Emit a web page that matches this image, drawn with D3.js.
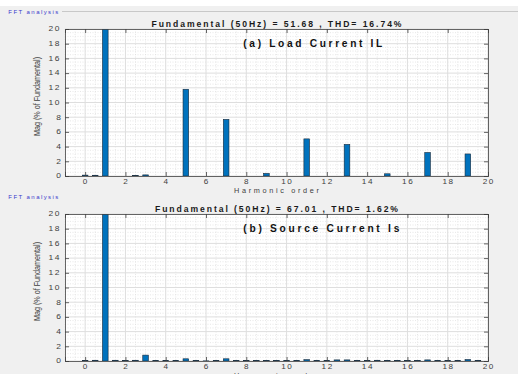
<!DOCTYPE html>
<html>
<head>
<meta charset="utf-8">
<script src="https://cdn.jsdelivr.net/npm/d3@7"></script>
<style>
  html, body { margin: 0; padding: 0; background: #f0f0f0; }
  svg { display: block; }
  text { font-family: "Liberation Sans", Arial, Helvetica, sans-serif; }
</style>
</head>
<body>
<svg id="chart" width="518" height="374"></svg>
<script>
// Harmonic spectrum of the load current (a)
const harmonicsA = [0, 0.5, 1, 2.5, 3, 5, 7, 9, 11, 13, 15, 17, 19];
const magA       = [0.12, 0.1, 100, 0.08, 0.15, 11.8, 7.7, 0.35, 5.05, 4.3, 0.3, 3.2, 3.0];

// Harmonic spectrum of the source current (b), half-order resolution
const harmonicsB = [0, 0.5, 1, 1.5, 2, 2.5, 3, 3.5, 4, 4.5, 5, 5.5, 6, 6.5, 7, 7.5, 8, 8.5, 9, 9.5,
                    10, 10.5, 11, 11.5, 12, 12.5, 13, 13.5, 14, 14.5, 15, 15.5, 16, 16.5, 17, 17.5, 18, 18.5, 19, 19.5];
const magB       = [0.08, 0.1, 100, 0.1, 0.08, 0.1, 0.8, 0.08, 0.08, 0.08, 0.3, 0.08, 0.02, 0.08, 0.3, 0.08, 0.08, 0.08, 0.08, 0.08,
                    0.08, 0.08, 0.18, 0.08, 0.08, 0.15, 0.15, 0.08, 0.08, 0.1, 0.08, 0.08, 0.08, 0.08, 0.15, 0.08, 0.08, 0.08, 0.2, 0.08];

const xTicks = [0, 2, 4, 6, 8, 10, 12, 14, 16, 18, 20];
const yTicks = [0, 2, 4, 6, 8, 10, 12, 14, 16, 18, 20];

const titles = ["Fundamental (50Hz) = 51.68 , THD= 16.74%", "Fundamental (50Hz) = 67.01 , THD= 1.62%"];
const labels = ["(a) Load Current IL", "(b) Source Current Is"];
const panelName = "FFT analysis";
const xLabel = "Harmonic order";
const yLabel = "Mag (% of Fundamental)";

const svg = d3.select("#chart");
const W = 518, H = 374;

// window background
svg.append("rect").attr("width", W).attr("height", H).attr("fill", "#f0f0f0");
svg.append("rect").attr("width", W).attr("height", 6).attr("fill", "#ffffff");

const left = 65, right = 488;
const panels = [
  { top: 29, bottom: 176, xs: harmonicsA, ys: magA, title: titles[0], label: labels[0],
    titleW: 250, labelW: 139, nameY: 14, line: true },
  { top: 214, bottom: 361, xs: harmonicsB, ys: magB, title: titles[1], label: labels[1],
    titleW: 243, labelW: 156, nameY: 199, line: false }
];

const x = d3.scaleLinear().domain([-1, 20]).range([left, right]);
const barW = x(0.28) - x(0);

panels.forEach((p, i) => {
  const y = d3.scaleLinear().domain([0, 20]).range([p.bottom, p.top]);
  const g = svg.append("g");

  // panel caption
  g.append("text").attr("x", 8.3).attr("y", p.nameY)
    .attr("font-size", 6).attr("fill", "#3a3acc")
    .attr("textLength", 50).text(panelName);
  if (p.line) {
    g.append("line").attr("x1", 62).attr("x2", W).attr("y1", 11.5).attr("y2", 11.5)
      .attr("stroke", "#c8c8c8").attr("stroke-width", 1);
  }

  // plot area
  g.append("rect").attr("x", left).attr("y", p.top)
    .attr("width", right - left).attr("height", p.bottom - p.top).attr("fill", "#ffffff");

  // minor grid (dotted)
  const minorX = d3.range(-1, 20.01, 0.5).filter(v => !xTicks.includes(v));
  const minorY = d3.range(0, 20.01, 0.5).filter(v => !yTicks.includes(v));
  g.append("g").selectAll("line").data(minorX).join("line")
    .attr("x1", d => x(d)).attr("x2", d => x(d)).attr("y1", p.top).attr("y2", p.bottom)
    .attr("stroke", "#dcdcdc").attr("stroke-width", 0.7).attr("stroke-dasharray", "1,1.5");
  g.append("g").selectAll("line").data(minorY).join("line")
    .attr("x1", left).attr("x2", right).attr("y1", d => y(d)).attr("y2", d => y(d))
    .attr("stroke", "#dcdcdc").attr("stroke-width", 0.7).attr("stroke-dasharray", "1,1.5");

  // major grid
  g.append("g").selectAll("line").data(xTicks).join("line")
    .attr("x1", d => x(d)).attr("x2", d => x(d)).attr("y1", p.top).attr("y2", p.bottom)
    .attr("stroke", "#dedede").attr("stroke-width", 1);
  g.append("g").selectAll("line").data(yTicks).join("line")
    .attr("x1", left).attr("x2", right).attr("y1", d => y(d)).attr("y2", d => y(d))
    .attr("stroke", "#dedede").attr("stroke-width", 1);

  // bars, clipped to the axes box
  const clipId = "clip" + i;
  svg.append("clipPath").attr("id", clipId).append("rect")
    .attr("x", left).attr("y", p.top).attr("width", right - left).attr("height", p.bottom - p.top);
  const data = p.xs.map((h, k) => ({ h, v: p.ys[k] }));
  g.append("g").attr("clip-path", `url(#${clipId})`)
    .selectAll("rect").data(data).join("rect")
    .attr("x", d => x(d.h) - barW / 2)
    .attr("y", d => y(d.v))
    .attr("width", barW)
    .attr("height", d => y(0) - y(d.v))
    .attr("fill", "#0072bd")
    .attr("stroke", "#1a2a3a").attr("stroke-width", 0.6);

  // axes with inward ticks
  const axB = d3.axisBottom(x).tickValues(xTicks).tickSize(-4).tickFormat("");
  const axT = d3.axisTop(x).tickValues(xTicks).tickSize(-4).tickFormat("");
  const axL = d3.axisLeft(y).tickValues(yTicks).tickSize(-4).tickFormat("");
  const axR = d3.axisRight(y).tickValues(yTicks).tickSize(-4).tickFormat("");
  [[axB, `translate(0,${p.bottom})`], [axT, `translate(0,${p.top})`],
   [axL, `translate(${left},0)`], [axR, `translate(${right},0)`]].forEach(([ax, tr]) => {
    const a = g.append("g").attr("transform", tr).call(ax);
    a.select(".domain").attr("stroke", "#404040").attr("stroke-width", 0.8);
    a.selectAll(".tick line").attr("stroke", "#404040").attr("stroke-width", 0.8);
  });

  // tick labels
  g.append("g").selectAll("text").data(xTicks).join("text")
    .attr("transform", d => `translate(${x(d)},${p.bottom + 8}) scale(1.3,1)`)
    .attr("text-anchor", "middle").attr("font-size", 6.3)
    .attr("letter-spacing", d => d >= 10 ? 1.2 : 0)
    .attr("dx", d => d >= 10 ? 0.6 : 0)
    .attr("fill", "#404040").text(d => d);
  g.append("g").selectAll("text").data(yTicks).join("text")
    .attr("transform", d => `translate(61,${y(d) + 2.3}) scale(1.3,1)`)
    .attr("text-anchor", "end").attr("font-size", 6.5)
    .attr("letter-spacing", d => d >= 10 ? 1.2 : 0)
    .attr("fill", "#404040").text(d => d);

  // axis titles
  g.append("text")
    .attr("x", (left + right) / 2 - 42.5).attr("y", p.bottom + 16.8)
    .attr("font-size", 7.3).attr("fill", "#404040")
    .attr("textLength", 85).text(xLabel);
  g.append("text")
    .attr("transform", `translate(39.5,${(p.top + p.bottom) / 2 - 6}) scale(1.2,1) rotate(-90)`)
    .attr("text-anchor", "middle").attr("font-size", 7.2).attr("fill", "#404040")
    .text(yLabel);

  // title and annotation
  g.append("text")
    .attr("x", (left + right) / 2 - p.titleW / 2).attr("y", p.top - 2.4)
    .attr("font-size", 8.6).attr("font-weight", "bold").attr("fill", "#1a1a1a")
    .attr("textLength", p.titleW).text(p.title);
  g.append("text")
    .attr("x", 243.3).attr("y", p.top + 18)
    .attr("font-size", 10.2).attr("font-weight", "bold").attr("fill", "#111111")
    .attr("textLength", p.labelW).text(p.label);
});
</script>
</body>
</html>
